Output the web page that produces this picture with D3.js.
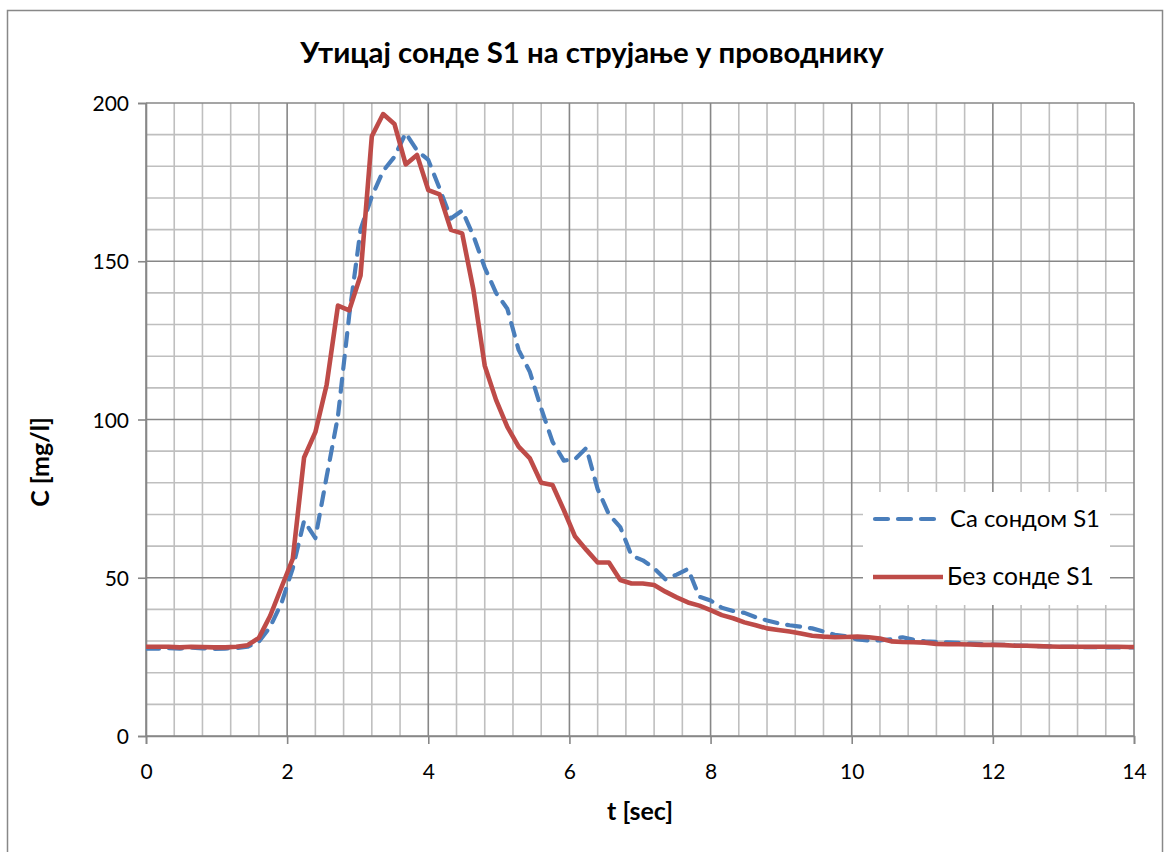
<!DOCTYPE html>
<html>
<head>
<meta charset="utf-8">
<script src="https://cdn.jsdelivr.net/npm/d3@7/dist/d3.min.js"></script>
<style>
  html, body { margin: 0; padding: 0; background: #fff; }
  svg { display: block; }
  text { font-family: Lato, "Open Sans", "Liberation Sans", sans-serif; fill: #000; }
</style>
</head>
<body>
<svg id="chart" width="1172" height="852"></svg>
<script>
// ---- data ----
const chartTitle = "Утицај сонде S1 на струјање у проводнику";
const xAxisTitle = "t [sec]";
const yAxisTitle = "C [mg/l]";
const seriesNames = ["Са сондом S1", "Без сонде S1"];

const time = [
  0.00, 0.16, 0.32, 0.48, 0.64, 0.80, 0.96, 1.12, 1.28, 1.44,
  1.60, 1.76, 1.92, 2.08, 2.24, 2.40, 2.56, 2.72, 2.88, 3.04,
  3.20, 3.36, 3.52, 3.68, 3.84, 4.00, 4.16, 4.32, 4.48, 4.64,
  4.80, 4.96, 5.12, 5.28, 5.44, 5.60, 5.76, 5.92, 6.08, 6.24,
  6.40, 6.56, 6.72, 6.88, 7.04, 7.20, 7.36, 7.52, 7.68, 7.84,
  8.00, 8.16, 8.32, 8.48, 8.64, 8.80, 8.96, 9.12, 9.28, 9.44,
  9.60, 9.76, 9.92, 10.08, 10.24, 10.40, 10.56, 10.72, 10.88, 11.04,
  11.20, 11.36, 11.52, 11.68, 11.84, 12.00, 12.16, 12.32, 12.48, 12.64,
  12.80, 12.96, 13.12, 13.28, 13.44, 13.60, 13.76, 13.92, 14.08
];

const withProbe = [
  27.6, 27.6, 27.8, 27.6, 27.9, 27.7, 27.5, 27.6, 27.8, 28.2,
  29.8, 34.5, 42.0, 53.0, 68.0, 62.5, 82.0, 101.0, 133.0, 160.0,
  170.5, 178.5, 183.0, 190.5, 185.0, 182.0, 173.0, 163.5, 166.0, 158.0,
  148.0, 140.0, 135.0, 122.0, 115.0, 103.5, 93.0, 87.0, 87.5, 91.0,
  78.0, 70.0, 66.0, 57.0, 55.5, 53.0, 49.5, 51.0, 52.8, 44.0,
  42.8, 40.5, 39.5, 38.9, 37.5, 36.5, 35.6, 35.0, 34.5, 34.0,
  33.0, 32.0, 31.5, 30.5, 30.2, 30.2, 30.6, 31.2, 30.4, 29.9,
  29.7, 29.6, 29.4, 29.2, 29.0, 28.9, 28.8, 28.6, 28.5, 28.4,
  28.3, 28.2, 28.2, 28.1, 28.1, 28.0, 28.0, 28.0, 28.0
];

const withoutProbe = [
  28.2, 28.2, 28.2, 28.0, 28.2, 28.1, 28.0, 28.0, 28.2, 28.7,
  31.0, 38.0, 47.0, 56.0, 88.0, 96.0, 111.0, 136.0, 134.5, 145.5,
  189.5, 196.5, 193.4, 180.6, 183.6, 172.5, 171.1, 159.9, 158.8, 140.9,
  117.0, 106.2, 97.7, 91.4, 87.7, 80.0, 79.3, 71.4, 63.0, 58.8,
  54.8, 54.8, 49.3, 48.2, 48.2, 47.7, 45.6, 43.8, 42.2, 41.2,
  39.8, 38.2, 37.2, 35.9, 35.0, 34.0, 33.5, 33.0, 32.4, 31.7,
  31.4, 31.2, 31.3, 31.4, 31.2, 30.8, 29.9, 29.7, 29.6, 29.5,
  29.1, 29.0, 29.0, 28.9, 28.8, 28.8, 28.7, 28.5, 28.5, 28.4,
  28.3, 28.2, 28.2, 28.2, 28.2, 28.2, 28.2, 28.1, 28.1
];

const xTicks = [0, 2, 4, 6, 8, 10, 12, 14];
const yTicks = [0, 50, 100, 150, 200];
const xMinorStep = 0.4;
const yMinorStep = 10;

// ---- layout ----
const svg = d3.select("#chart");
const plot = { left: 146, right: 1134, top: 103, bottom: 736 };

const x = d3.scaleLinear().domain([0, 14]).range([plot.left, plot.right]);
const y = d3.scaleLinear().domain([0, 200]).range([plot.bottom, plot.top]);

const majorColor = "#878787";
const minorColor = "#BFBFBF";
const blue = "#4A7EBB";
const red = "#BE4B48";

// outer chart border
svg.append("rect")
  .attr("x", 7.5).attr("y", 10.5)
  .attr("width", 1155).attr("height", 860)
  .attr("fill", "#fff").attr("stroke", "#888").attr("stroke-width", 1.5);

function fitText(sel, target) {
  const node = sel.node();
  const fs = parseFloat(sel.attr("font-size"));
  const w = node.getComputedTextLength();
  if (w > 0) sel.attr("font-size", (fs * target / w).toFixed(2));
}

// title
const t = svg.append("text")
  .attr("x", 592).attr("y", 63)
  .attr("text-anchor", "middle")
  .attr("font-weight", "bold").attr("font-size", 24)
  .text(chartTitle);
fitText(t, 584);

// minor grid
const xMinor = d3.range(0, 14.0001, xMinorStep).filter(v => Math.abs(v / 2 - Math.round(v / 2)) > 1e-6);
const yMinor = d3.range(0, 200.0001, yMinorStep).filter(v => v % 50 !== 0);
const grid = svg.append("g");
grid.selectAll("line.vx").data(xMinor).join("line")
  .attr("x1", d => x(d)).attr("x2", d => x(d))
  .attr("y1", plot.top).attr("y2", plot.bottom)
  .attr("stroke", minorColor).attr("stroke-width", 1.6);
grid.selectAll("line.hy").data(yMinor).join("line")
  .attr("y1", d => y(d)).attr("y2", d => y(d))
  .attr("x1", plot.left).attr("x2", plot.right)
  .attr("stroke", minorColor).attr("stroke-width", 1.6);
// major grid
grid.selectAll("line.vX").data(xTicks).join("line")
  .attr("x1", d => x(d)).attr("x2", d => x(d))
  .attr("y1", plot.top).attr("y2", plot.bottom)
  .attr("stroke", majorColor).attr("stroke-width", 1.6);
grid.selectAll("line.hY").data(yTicks).join("line")
  .attr("y1", d => y(d)).attr("y2", d => y(d))
  .attr("x1", plot.left).attr("x2", plot.right)
  .attr("stroke", majorColor).attr("stroke-width", 1.6);

// axes
const xAxis = d3.axisBottom(x).tickValues(xTicks).tickSize(8).tickPadding(20).tickFormat(d3.format("d"));
const gx = svg.append("g").attr("transform", `translate(0,${plot.bottom})`).call(xAxis);
const yAxis = d3.axisLeft(y).tickValues(yTicks).tickSize(8).tickPadding(9).tickFormat(d3.format("d"));
const gy = svg.append("g").attr("transform", `translate(${plot.left},0)`).call(yAxis);
[gx, gy].forEach(g => {
  g.select(".domain").attr("stroke", majorColor).attr("stroke-width", 1.6);
  g.selectAll(".tick line").attr("stroke", majorColor).attr("stroke-width", 1.6);
  g.selectAll(".tick text").attr("font-size", 21).attr("font-family", "Lato, 'Open Sans', sans-serif").attr("fill", "#000");
});
gy.selectAll(".tick text").attr("dy", "0.36em");

// axis titles
svg.append("text")
  .attr("x", 640).attr("y", 820)
  .attr("text-anchor", "middle").attr("font-weight", "bold").attr("font-size", 25)
  .text(xAxisTitle);
svg.append("text")
  .attr("transform", "translate(49,462) rotate(-90)")
  .attr("text-anchor", "middle").attr("font-weight", "bold").attr("font-size", 25)
  .text(yAxisTitle);

// series
svg.append("clipPath").attr("id", "clip").append("rect")
  .attr("x", plot.left).attr("y", plot.top - 10)
  .attr("width", plot.right - plot.left).attr("height", plot.bottom - plot.top + 10);

const line = d3.line().x(d => x(d[0])).y(d => y(d[1]));
const lines = svg.append("g").attr("clip-path", "url(#clip)");

lines.append("path")
  .datum(time.map((tt, i) => [tt, withProbe[i]]))
  .attr("d", line)
  .attr("fill", "none").attr("stroke", blue).attr("stroke-width", 4.2)
  .attr("stroke-dasharray", "13,10").attr("stroke-linecap", "round").attr("stroke-linejoin", "round");

lines.append("path")
  .datum(time.map((tt, i) => [tt, withoutProbe[i]]))
  .attr("d", line)
  .attr("fill", "none").attr("stroke", red).attr("stroke-width", 4.6)
  .attr("stroke-linejoin", "round");

// legend
const lg = svg.append("g");
lg.append("rect").attr("x", 863).attr("y", 492).attr("width", 247).attr("height", 113).attr("fill", "#fff");
const legendItems = [
  { name: seriesNames[0], color: blue, dash: "13,10", cap: "round", y: 519, x2: 936, tx: 950, w: 150 },
  { name: seriesNames[1], color: red, dash: null, cap: "butt", y: 577, x2: 943, tx: 947, w: 147 }
];
legendItems.forEach(it => {
  lg.append("line")
    .attr("x1", it.cap === "round" ? 875 : 873).attr("x2", it.x2)
    .attr("y1", it.y).attr("y2", it.y)
    .attr("stroke", it.color).attr("stroke-width", it.dash ? 4.2 : 4.6)
    .attr("stroke-dasharray", it.dash).attr("stroke-linecap", it.cap);
  const tx = lg.append("text")
    .attr("x", it.tx).attr("y", it.y + 8)
    .attr("font-size", 22)
    .text(it.name);
  fitText(tx, it.w);
});
</script>
</body>
</html>
